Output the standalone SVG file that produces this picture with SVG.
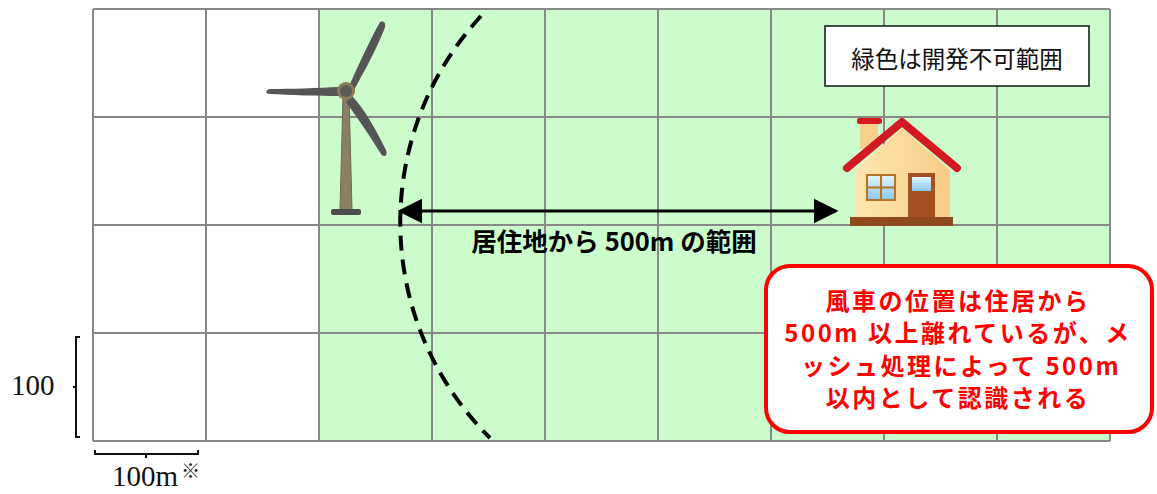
<svg xmlns="http://www.w3.org/2000/svg" width="1157" height="494" viewBox="0 0 1157 494">
  <style>
    .grid { stroke: #888; stroke-width: 2; fill: none; }
    .jp { font-family: "Noto Sans CJK JP", "Noto Sans", sans-serif; }
    .serif { font-family: "Liberation Serif", "DejaVu Serif", serif; font-size: 29px; fill: #111; }
    .mark { font-family: "Noto Sans CJK JP", sans-serif; font-size: 19px; fill: #222; }
    .bracket { stroke: #111; stroke-width: 2; fill: none; }
    .blade { fill: #555; }
  </style>
  <defs>
    <marker id="arrowhead" viewBox="0 0 10 10" refX="9" refY="5" markerWidth="8.3" markerHeight="8.3" markerUnits="strokeWidth" orient="auto-start-reverse">
      <path d="M0,0 L10,5 L0,10 Z" fill="#000"/>
    </marker>
    <linearGradient id="wall" x1="0" y1="0" x2="1" y2="0">
      <stop offset="0" stop-color="#fde6b0"/>
      <stop offset="1" stop-color="#f7cd86"/>
    </linearGradient>
    <linearGradient id="glass" x1="0" y1="0" x2="0" y2="1">
      <stop offset="0" stop-color="#e6f6ff"/>
      <stop offset="1" stop-color="#86c8ee"/>
    </linearGradient>
  </defs>

  <rect width="1157" height="494" fill="#fff"/>

  <!-- mesh grid: green cells are off-limits -->
  <g id="mesh">
    <rect x="319" y="9" width="791" height="432" fill="#ccfccc"/>
    <path class="grid" d="M93,9 H1110 M93,117 H1110 M93,225 H1110 M93,333 H1110 M93,441 H1110
      M93,9 V441 M206,9 V441 M319,9 V441 M432,9 V441 M545,9 V441 M658,9 V441 M771,9 V441 M884,9 V441 M997,9 V441 M1110,9 V441"/>
  </g>

  <!-- scale brackets -->
  <g id="scale">
    <path class="bracket" d="M80,337 H76 V437 H80 M76,387 H73"/>
    <text class="serif" x="11" y="395">100</text>
    <path class="bracket" d="M95,450 V454 H198 V450 M146,454 V458"/>
    <text class="serif" x="112" y="486">100m</text>
    <text class="mark" x="181" y="478">※</text>
  </g>

  <!-- wind turbine -->
  <g id="turbine">
    <polygon points="343,96 349,96 352,210 340,210" fill="#8a8064" stroke="#6e664e" stroke-width="1"/>
    <rect x="331" y="209" width="30" height="6" rx="2" fill="#4e4e4e"/>
    <path class="blade" d="M350,84 C358,66 370,40 380,22 C386,20 386,26 384,30 C376,50 364,72 354,90 Z"/>
    <path class="blade" d="M340,87 C318,88 290,89 270,89 C265,90 265,94 270,94 C290,95 318,96 340,96 Z"/>
    <path class="blade" d="M352,96 C364,108 376,130 386,150 C388,156 384,158 381,154 C370,136 356,116 346,102 Z"/>
    <circle cx="346" cy="91" r="9" fill="#8a7a55"/>
    <circle cx="346" cy="91" r="6" fill="#5a5a5a"/>
  </g>

  <!-- 500 m boundary around the residence -->
  <g id="connectors">
    <path d="M481,16 A304,304 0 0 0 490,438" fill="none" stroke="#000" stroke-width="4" stroke-dasharray="15,9"/>
    <line x1="400" y1="211" x2="836" y2="211" stroke="#000" stroke-width="3" marker-start="url(#arrowhead)" marker-end="url(#arrowhead)"/>
  </g>

  <!-- house -->
  <g id="house">
    <rect x="860" y="123" width="18" height="26" fill="#f7d08e"/>
    <rect x="857" y="118" width="25" height="6" rx="2" fill="#d11a22"/>
    <polygon points="902,128 950,170 950,218 855,218 855,170" fill="url(#wall)"/>
    <path d="M847,168 L902,122 L957,168" fill="none" stroke="#d11a22" stroke-width="8" stroke-linecap="round" stroke-linejoin="round"/>
    <rect x="867" y="175" width="28" height="25" fill="url(#glass)" stroke="#b87324" stroke-width="2"/>
    <path d="M881,175 V200 M867,187.5 H895" stroke="#b87324" stroke-width="2"/>
    <rect x="908" y="173" width="27" height="45" fill="#a5511f"/>
    <rect x="912" y="177" width="19" height="14" fill="url(#glass)"/>
    <rect x="850" y="217" width="103" height="9" fill="#8e4a1d"/>
  </g>

  <!-- arrow caption -->
  <g id="range-label">
    <text class="jp" x="614" y="251" text-anchor="middle" font-size="25.5" font-weight="bold" fill="#000">居住地から 500m の範囲</text>
  </g>

  <!-- legend box -->
  <g id="legend">
    <rect x="825" y="26" width="264" height="60" fill="#fff" stroke="#111" stroke-width="1.5"/>
    <text class="jp" x="957" y="68" text-anchor="middle" font-size="23.5" fill="#111">緑色は開発不可範囲</text>
  </g>

  <!-- note callout -->
  <g id="note">
    <rect x="766" y="266" width="386" height="166" rx="24" fill="#fff" stroke="#f00" stroke-width="4"/>
    <g class="jp" font-size="24" font-weight="bold" fill="#f00" text-anchor="middle" letter-spacing="2.5">
      <text x="958" y="310">風車の位置は住居から</text>
      <text x="958" y="342">500m 以上離れているが、メ</text>
      <text x="961" y="375">ッシュ処理によって 500m</text>
      <text x="958" y="407">以内として認識される</text>
    </g>
  </g>
</svg>
